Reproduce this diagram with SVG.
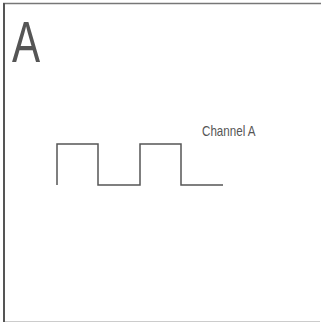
<svg xmlns="http://www.w3.org/2000/svg" width="321" height="322" viewBox="0 0 321 322">
<style>
.t{font-family:"Liberation Sans",Arial,sans-serif;fill:#555}
.w{fill:none;stroke:#555;stroke-width:1.5}
</style>
<rect width="321" height="322" fill="#fff"/>
<g id="frame">
<line x1="3" y1="3.5" x2="321" y2="3.5" stroke="#777" stroke-width="1.5"/>
<line x1="4" y1="3" x2="4" y2="322" stroke="#555" stroke-width="2"/>
<line x1="5" y1="321.5" x2="320" y2="321.5" stroke="#ccc" stroke-width="1"/>
</g>
<g id="title"><text class="t" font-size="57" transform="translate(12,61.5) scale(0.74,1)">A</text></g>
<g id="waveform"><path class="w" d="M57,185 V144 H98 V185 H140 V144 H181 V185 H223"/></g>
<g id="label"><text class="t" font-size="14" transform="translate(202,136) scale(0.83,1)">Channel A</text></g>
</svg>
